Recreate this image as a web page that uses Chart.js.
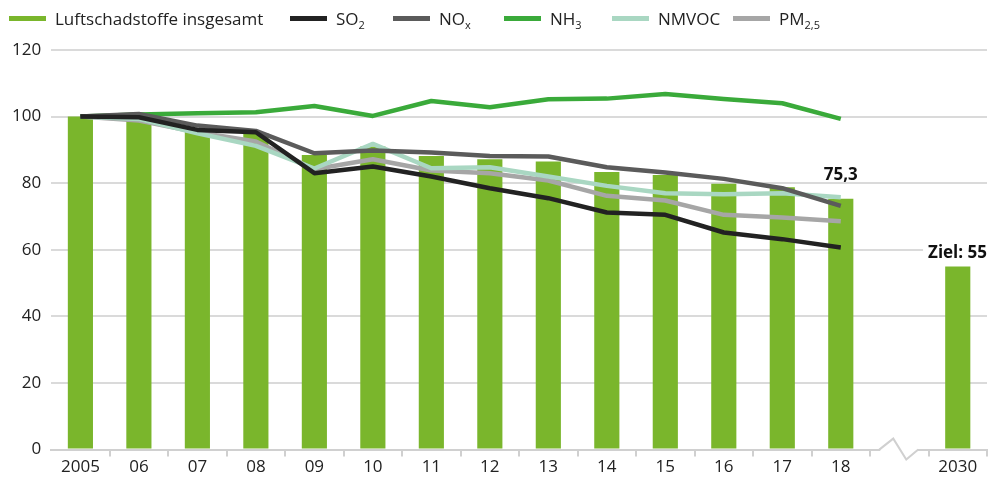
<!DOCTYPE html>
<html lang="de">
<head>
<meta charset="utf-8">
<title>Luftschadstoffe</title>
<script src="https://cdn.jsdelivr.net/npm/chart.js@4.4.1/dist/chart.umd.min.js"></script>
<style>
  html, body { margin: 0; padding: 0; background: #fff; }
  #wrap { position: relative; width: 989px; height: 477px; }
  #legend { position: absolute; left: 0; top: 0; width: 989px; height: 36px;
            font: 17px "Open Sans", sans-serif; color: #222; }
  .item { position: absolute; top: 7px; display: flex; align-items: center; white-space: nowrap; }
  .swatch { width: 37px; height: 5px; margin-right: 9px; }
  sub { font-size: 11px; vertical-align: -4px; line-height: 0; }
</style>
</head>
<body>
<div id="wrap">
  <canvas id="chart"></canvas>
  <div id="legend"></div>
</div>
<script>
// Index 2005 = 100
const years = ['2005', '06', '07', '08', '09', '10', '11', '12', '13', '14', '15', '16', '17', '18', '', '2030'];

const total = [100, 99, 95.5, 95, 88.5, 91, 88.2, 87.2, 86.5, 83.4, 82.5, 79.8, 78.8, 75.3, null, 55];
const so2   = [100, 99.8, 96, 95.3, 83, 85, 82, 78.5, 75.5, 71.2, 70.5, 65.2, 63.2, 60.7, null, null];
const nox   = [100, 100.8, 97.3, 95.7, 89, 89.8, 89.2, 88.2, 88, 84.8, 83.2, 81.3, 78.5, 73.2, null, null];
const nh3   = [100, 100.6, 101, 101.3, 103.2, 100.2, 104.7, 102.8, 105.2, 105.4, 106.8, 105.3, 104, 99.3, null, null];
const nmvoc = [100, 99.3, 95, 91.2, 84.4, 91.8, 84.5, 84.8, 82, 79.2, 77, 76.7, 77, 75.8, null, null];
const pm25  = [100, 98.8, 95.3, 92.5, 84.2, 87.2, 83.8, 83, 80.8, 76.2, 74.8, 70.5, 69.7, 68.6, null, null];

const barLabels = [null, null, null, null, null, null, null, null, null, null, null, null, null, '75,3', null, 'Ziel: 55'];

const yTicks = [0, 20, 40, 60, 80, 100, 120];

// legend texts (with subscripts)
const legendItems = [
  { html: 'Luftschadstoffe insgesamt', color: '#7ab62c', left: 9 },
  { html: 'SO<sub>2</sub>', color: '#222222', left: 290 },
  { html: 'NO<sub>x</sub>', color: '#5b5b5b', left: 393 },
  { html: 'NH<sub>3</sub>', color: '#3aaa3a', left: 504 },
  { html: 'NMVOC', color: '#a9d7c2', left: 612 },
  { html: 'PM<sub>2,5</sub>', color: '#a6a6a6', left: 733 }
];

const legend = document.getElementById('legend');
legendItems.forEach(it => {
  const el = document.createElement('div');
  el.className = 'item';
  el.style.left = it.left + 'px';
  el.innerHTML = `<span class="swatch" style="background:${it.color}"></span><span>${it.html}</span>`;
  legend.appendChild(el);
});

// bold value labels above the bars
const valueLabels = {
  id: 'valueLabels',
  afterDatasetsDraw(chart) {
    const ctx = chart.ctx;
    const meta = chart.getDatasetMeta(0);
    ctx.save();
    ctx.font = 'bold 17px "Open Sans", sans-serif';
    ctx.textAlign = 'center';
    ctx.textBaseline = 'middle';
    barLabels.forEach((txt, i) => {
      if (!txt) return;
      const bar = meta.data[i];
      const w = ctx.measureText(txt).width;
      const x = Math.min(bar.x, chart.width - w / 2 - 2);
      const y = i === 13 ? bar.y - 24 : bar.y - 13;
      ctx.fillStyle = '#fff';
      ctx.fillRect(x - w / 2 - 5, y - 7, w + 10, 13);
      ctx.fillStyle = '#111';
      ctx.fillText(txt, x, y);
    });
    ctx.restore();
  }
};

// zigzag break on the x axis at the empty category
const axisBreak = {
  id: 'axisBreak',
  afterDraw(chart) {
    const ctx = chart.ctx;
    const cx = chart.scales.x.getPixelForValue(14);
    const y = chart.scales.y.getPixelForValue(0);
    ctx.save();
    ctx.fillStyle = '#fff';
    ctx.fillRect(cx - 19, y - 3, 37, 6);
    ctx.strokeStyle = '#d0d0d0';
    ctx.lineWidth = 2;
    ctx.lineJoin = 'miter';
    ctx.beginPath();
    ctx.moveTo(cx - 20, y);
    ctx.lineTo(cx - 6, y - 11);
    ctx.lineTo(cx + 7, y + 10);
    ctx.lineTo(cx + 19, y);
    ctx.stroke();
    ctx.restore();
  }
};

function lineSet(label, data, color, order) {
  return {
    type: 'line',
    label: label,
    data: data,
    borderColor: color,
    backgroundColor: color,
    borderWidth: 4.5,
    tension: 0,
    pointRadius: 0,
    pointHoverRadius: 0,
    borderJoinStyle: 'round',
    order: order
  };
}

const ctx = document.getElementById('chart').getContext('2d');
new Chart(ctx, {
  data: {
    labels: years,
    datasets: [
      {
        type: 'bar',
        label: 'Luftschadstoffe insgesamt',
        data: total,
        backgroundColor: '#7ab62c',
        categoryPercentage: 1,
        barPercentage: 0.43,
        order: 10
      },
      lineSet('SO₂', so2, '#222222', 1),
      lineSet('NOₓ', nox, '#5b5b5b', 2),
      lineSet('NH₃', nh3, '#3aaa3a', 3),
      lineSet('NMVOC', nmvoc, '#a9d7c2', 4),
      lineSet('PM₂,₅', pm25, '#a6a6a6', 5)
    ]
  },
  options: {
    responsive: true,
    maintainAspectRatio: false,
    animation: false,
    layout: {
      padding: { top: 50, left: 2, right: 2, bottom: 0 }
    },
    plugins: {
      legend: { display: false },
      tooltip: { enabled: false },
      title: { display: false }
    },
    scales: {
      y: {
        min: 0,
        max: 120,
        afterBuildTicks: axis => { axis.ticks = yTicks.map(v => ({ value: v })); },
        border: { display: false },
        grid: { color: '#dadada', lineWidth: 2, drawTicks: false },
        ticks: {
          color: '#222',
          padding: 10,
          font: { family: '"Open Sans", sans-serif', size: 17 }
        }
      },
      x: {
        border: { color: '#d0d0d0', width: 2 },
        grid: {
          offset: true,
          drawOnChartArea: false,
          tickLength: 7,
          lineWidth: 2,
          color: c => (c.index === 0 ? 'rgba(0,0,0,0)' : '#d0d0d0')
        },
        ticks: {
          color: '#222',
          padding: 0,
          maxRotation: 0,
          autoSkip: false,
          font: { family: '"Open Sans", sans-serif', size: 17 }
        }
      }
    }
  },
  plugins: [valueLabels, axisBreak]
});
</script>
</body>
</html>
